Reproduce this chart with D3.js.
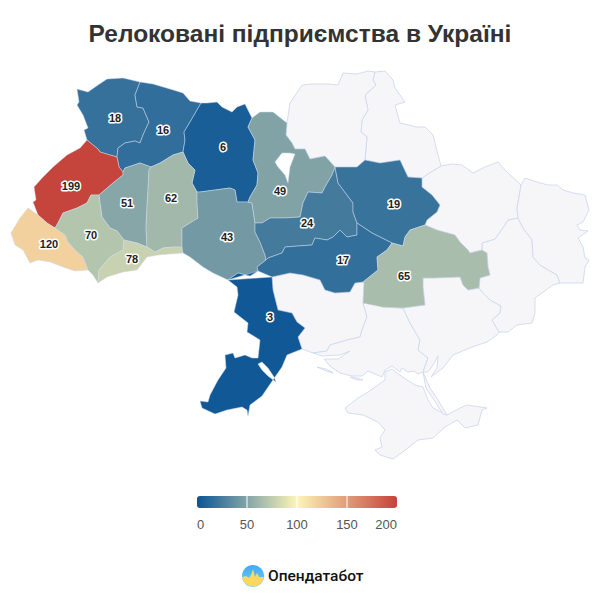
<!DOCTYPE html>
<html lang="uk">
<head>
<meta charset="utf-8">
<title>Релоковані підприємства в Україні</title>
<script src="https://cdn.jsdelivr.net/npm/d3@7"></script>
<style>
  html, body { margin: 0; padding: 0; background: #fff; }
  svg { display: block; font-family: "Liberation Sans", Arial, sans-serif; }
  .region { stroke: #cfd9ee; stroke-width: 0.9; stroke-linejoin: round; fill-rule: evenodd; }
  .region.has-value { stroke-opacity: 0.55; }
  .value { font-size: 11px; font-weight: 700; fill: #222; stroke: #fff; stroke-width: 3px; paint-order: stroke; stroke-linejoin: round; text-anchor: middle; }
  .tick { font-size: 13px; fill: #555; }
</style>
</head>
<body>
<svg id="chart" width="600" height="600"></svg>
<script>
// relocated businesses per oblast
const regionNames = ['Волинська', 'Рівненська', 'Житомирська', 'Львівська', 'Тернопільська', 'Хмельницька', 'Закарпатська', 'Івано-Франківська', 'Чернівецька', 'Вінницька', 'Київська', 'Черкаська', 'Полтавська', 'Кіровоградська', 'Дніпропетровська', 'Одеська'];
const regionValues = [18, 16, 6, 199, 51, 62, 120, 70, 78, 43, 49, 24, 19, 17, 65, 3];
// label anchors, in map units (one unit is one pixel of the traced map)
const labelX = [115, 163, 223, 71, 127, 171, 49, 91, 132, 227, 280, 307, 394, 343, 404, 270];
const labelY = [118, 130, 147, 186, 203, 198, 244, 235, 259, 237, 191, 223, 204, 260, 276, 317];

const legendTicks = [0, 50, 100, 150, 200];
const colorStops = [0, 100, 200];
const colorRange = ['#0a5495', '#fdf5b8', '#c4423a'];

// borders, shared between neighbouring oblasts
const arcs = {
  volynNorth: [[140,82],[123,78],[107,79],[98,85],[88,92],[77,89],[79,102],[77,105],[83,115],[88,128],[84,130],[87,140]],
  volynLviv: [[87,140],[93,145],[98,149],[100,152],[110,155],[117,157]],
  volynRivne: [[140,82],[135,95],[137,107],[143,108],[149,122],[143,135],[140,143],[135,141],[125,143],[118,148],[117,157]],
  rivneNorth: [[140,82],[153,84],[170,89],[183,93],[190,101],[201,103]],
  rivneZhyt: [[201,103],[197,110],[190,122],[184,132],[185,140],[183,152]],
  rivneKhm: [[183,152],[173,155],[160,163],[151,167]],
  rivneTer: [[151,167],[140,163],[125,168],[123,172]],
  rivneLviv: [[117,157],[119,167],[123,172]],
  lvivWest: [[87,140],[80,148],[67,155],[53,167],[43,177],[34,187],[36,200],[33,202],[38,215]],
  lvivZak: [[38,215],[47,223],[55,228]],
  lvivIf: [[55,228],[58,223],[63,213],[77,208],[87,203],[91,195],[99,195]],
  lvivTer: [[99,195],[113,183],[123,175],[123,172]],
  zakOuter: [[38,215],[28,208],[20,218],[11,233],[15,245],[23,250],[30,263],[38,260],[50,262],[63,267],[75,271],[88,270]],
  zakIf: [[88,270],[83,257],[75,250],[68,242],[65,235],[55,228]],
  ifOuter: [[88,270],[93,275],[98,283]],
  ifChern: [[98,283],[99,270],[110,257],[123,250],[124,240]],
  ifTer: [[124,240],[117,231],[110,228],[102,217],[100,203],[99,195]],
  terKhm: [[151,167],[149,170],[148,190],[147,207],[146,227],[147,247]],
  terChern: [[147,247],[137,243],[124,240]],
  chernOuter: [[98,283],[107,277],[123,272],[137,270],[147,257],[158,255],[170,254],[183,253]],
  chernVin: [[183,253],[182,247]],
  chernKhm: [[182,247],[173,247],[163,248],[155,252],[147,247]],
  khmZhyt: [[183,152],[188,163],[195,170],[192,183],[197,192]],
  khmVin: [[197,192],[197,203],[198,218],[190,223],[182,228],[182,247]],
  zhytNorth: [[201,103],[207,103],[217,102],[222,107],[232,112],[237,107],[245,104],[252,118]],
  zhytKyiv: [[252,118],[248,127],[255,140],[253,160],[258,173],[257,185],[250,197],[248,202]],
  zhytVin: [[248,202],[237,202],[235,190],[230,188],[200,192],[197,192]],
  vinKyiv: [[248,202],[252,203],[255,223]],
  vinCherk: [[255,223],[255,232],[260,242],[265,255],[266,260]],
  vinKir: [[266,260],[257,267],[258,271]],
  vinOdesa: [[258,271],[250,276],[238,273],[228,280]],
  vinOuter: [[183,253],[190,257],[203,267],[213,273],[228,280]],
  kyivNorth: [[252,118],[260,112],[273,112],[287,123]],
  kyivChern: [[287,123],[286,135],[292,143],[295,149],[305,149],[310,159],[325,156],[335,167]],
  kyivCherk: [[335,167],[332,175],[325,187],[322,193],[308,192],[303,203],[300,217],[285,218],[270,218],[262,223],[255,223]],
  cherkPol: [[335,167],[338,183],[347,195],[353,203],[353,212],[357,223]],
  cherkKir: [[357,223],[357,235],[347,237],[340,230],[333,237],[327,240],[315,238],[312,245],[285,247],[282,253],[268,258],[266,260]],
  polNorth: [[335,167],[347,167],[357,167],[365,160]],
  polSumy: [[365,160],[380,163],[400,160],[408,177],[422,178]],
  polKhar: [[422,178],[422,187],[432,195],[440,205],[437,212],[427,220],[425,225]],
  polDnipro: [[425,225],[410,230],[405,237],[403,246],[392,243]],
  polKir: [[392,243],[372,233],[357,223]],
  kirDnipro: [[392,243],[387,250],[377,257],[378,270],[363,282]],
  kirMyk: [[363,282],[355,283],[350,292],[335,293],[325,290],[320,280],[303,275],[290,273],[272,277]],
  kirOdesa: [[272,277],[258,271]],
  dniproKhar: [[425,225],[437,230],[455,235],[460,242],[468,250],[470,253],[482,250]],
  dniproDon: [[482,250],[487,253],[488,267],[490,275],[480,278],[479,288]],
  dniproZap: [[479,288],[468,290],[463,285],[460,277],[433,278],[423,278],[423,287],[425,305],[403,308]],
  dniproKherson: [[403,308],[382,307],[363,303]],
  dniproMyk: [[363,303],[364,283],[363,282]],
  odesaMyk: [[272,277],[273,290],[278,310],[292,313],[297,322],[305,328],[298,337],[302,349]],
  odesaOuter: [[228,280],[237,287],[238,295],[234,312],[248,323],[247,332],[260,340],[258,358],[252,358],[245,355],[235,358],[233,353],[225,355],[226,368],[218,380],[210,395],[208,402],[200,401],[202,408],[215,414],[227,410],[242,407],[247,410],[248,416],[250,405],[262,396],[275,377],[282,367],[287,355],[302,349]],
  mykCoast: [[302,349],[313,353]],
  mykKherson: [[363,303],[367,317],[362,330],[360,337],[347,340],[330,345],[327,351],[313,353]],
  khersonCoast: [[313,353],[322,356],[340,355],[350,351],[338,359],[324,359],[330,366],[340,373],[352,376],[362,376],[368,371],[382,377],[385,370],[392,366],[400,372],[402,368],[408,372],[414,371],[418,374],[423,372]],
  khersonZap: [[403,308],[410,323],[420,340],[418,350],[428,358],[423,372]],
  zapCoast: [[423,372],[428,372],[433,365],[438,356],[437,368],[431,377],[443,368],[453,355],[472,347],[487,342],[497,335],[499,332]],
  zapDon: [[479,288],[483,293],[490,300],[501,306],[500,313],[492,320],[499,332]],
  donCoast: [[499,332],[508,332],[517,325],[532,323],[535,313],[535,298],[553,285],[560,283]],
  donLuh: [[560,283],[557,275],[540,265],[533,257],[532,240],[523,228],[518,218]],
  donKhar: [[518,218],[508,220],[500,232],[495,239],[482,243],[482,250]],
  kharLuh: [[521,185],[519,197],[517,208],[518,218]],
  kharNorth: [[441,166],[452,164],[462,165],[473,173],[485,167],[498,162],[507,172],[521,185]],
  kharSumy: [[441,166],[431,172],[422,178]],
  luhOuter: [[521,185],[525,178],[537,182],[548,185],[557,185],[563,190],[573,193],[585,195],[589,210],[583,222],[577,225],[580,230],[588,231],[578,238],[583,247],[585,258],[589,260],[585,267],[583,283],[560,283]],
  sumyChern: [[375,72],[373,80],[376,85],[365,95],[368,110],[362,120],[361,132],[367,137],[365,160]],
  sumyOuter: [[375,72],[385,71],[393,80],[395,88],[405,102],[395,105],[400,123],[417,127],[425,127],[433,135],[438,155],[441,166]],
  chernihivOuter: [[287,123],[290,103],[302,85],[312,84],[328,84],[338,85],[343,73],[357,74],[368,71],[375,72]]
};

// each oblast is a list of arcs; a leading minus walks the arc backwards
const regionRings = {
  'Волинська': [['volynNorth', 'volynLviv', '-volynRivne']],
  'Рівненська': [['rivneNorth', 'rivneZhyt', 'rivneKhm', 'rivneTer', '-rivneLviv', '-volynRivne']],
  'Житомирська': [['zhytNorth', 'zhytKyiv', 'zhytVin', '-khmZhyt', '-rivneZhyt']],
  'Львівська': [['lvivWest', 'lvivZak', 'lvivIf', 'lvivTer', '-rivneLviv', '-volynLviv']],
  'Тернопільська': [['-lvivTer', '-ifTer', '-terChern', '-terKhm', 'rivneTer']],
  'Хмельницька': [['rivneKhm', 'terKhm', '-chernKhm', '-khmVin', '-khmZhyt']],
  'Закарпатська': [['zakOuter', 'zakIf', '-lvivZak']],
  'Івано-Франківська': [['ifOuter', 'ifChern', 'ifTer', '-lvivIf', '-zakIf']],
  'Чернівецька': [['chernOuter', 'chernVin', 'chernKhm', 'terChern', '-ifChern']],
  'Вінницька': [['vinOuter', '-vinOdesa', '-vinKir', '-vinCherk', '-vinKyiv', 'zhytVin', 'khmVin', '-chernVin']],
  'Київська': [['kyivNorth', 'kyivChern', 'kyivCherk', '-vinKyiv', '-zhytKyiv'], [[275,162],[282,153],[290,153],[295,154],[290,167],[288,183],[285,175],[278,167],[275,162]]],
  'Черкаська': [['cherkPol', 'cherkKir', '-vinCherk', '-kyivCherk']],
  'Полтавська': [['polNorth', 'polSumy', 'polKhar', 'polDnipro', 'polKir', '-cherkPol']],
  'Кіровоградська': [['-polKir', 'kirDnipro', 'kirMyk', 'kirOdesa', '-vinKir', '-cherkKir']],
  'Дніпропетровська': [['dniproKhar', 'dniproDon', 'dniproZap', 'dniproKherson', 'dniproMyk', '-kirDnipro', '-polDnipro']],
  'Одеська': [['vinOdesa', '-vinOuter'].slice(0, 1).concat(['-kirOdesa', 'odesaMyk', '-odesaOuter']), [[262,362],[268,368],[274,377],[276,382],[268,376],[262,370],[258,364],[262,362]]],
  'Миколаївська': [['kirMyk', 'odesaMyk', 'mykCoast', '-mykKherson', 'dniproMyk'].map(a => a)],
  'Херсонська': [['dniproKherson', 'mykKherson', 'khersonCoast', '-khersonZap', 'dniproKherson'].slice(1, 4).concat(['-dniproKherson'])],
  'Запорізька': [['dniproZap', 'khersonZap', 'zapCoast', '-zapDon']],
  'Донецька': [['zapDon', 'donCoast', 'donLuh', 'donKhar', 'dniproDon']],
  'Харківська': [['kharNorth', 'kharLuh', 'donKhar', 'dniproKhar'].slice(0, 3).concat(['-dniproKhar', '-polKhar', 'kharSumy'].slice(0, 2)).concat(['-kharSumy'])],
  'Луганська': [['luhOuter', 'donLuh', '-kharLuh']],
  'Сумська': [['sumyOuter', 'kharSumy', '-polSumy', '-sumyChern']],
  'Чернігівська': [['chernihivOuter', 'sumyChern', '-polNorth', '-kyivChern']],
  'Крим': [[[385,372],[392,369],[397,373],[407,380],[415,385],[423,387],[428,400],[433,408],[447,415],[460,408],[467,405],[487,408],[482,410],[478,425],[465,428],[457,420],[445,427],[433,438],[418,440],[408,448],[393,459],[380,455],[375,450],[382,447],[380,438],[385,430],[378,422],[363,415],[348,413],[345,408],[358,398],[368,392],[385,380],[385,372]]],
  'Кінбурн': [[[317,367],[326,369],[333,373],[326,371],[317,367]]],
  'Тендра': [[[350,377],[357,378],[363,380],[357,380],[350,377]]],
  'Арабат': [[[423,372],[430,388],[438,400],[447,415],[443,414],[434,400],[426,388],[423,372]]]
};

const svg = d3.select('#chart');

const color = d3.scaleLinear().domain(colorStops).range(colorRange);

function stitch(ring) {
  const pts = [];
  ring.forEach(part => {
    if (typeof part !== 'string') { pts.push(part); return; }
    const back = part[0] === '-';
    const arc = arcs[back ? part.slice(1) : part];
    const line = back ? arc.slice().reverse() : arc;
    pts.push(...(pts.length ? line.slice(1) : line));
  });
  if (pts[0][0] !== pts[pts.length - 1][0] || pts[0][1] !== pts[pts.length - 1][1]) pts.push(pts[0]);
  return pts;
}

const features = Object.keys(regionRings).map(name => {
  const idx = regionNames.indexOf(name);
  return {
    type: 'Feature',
    properties: { name, value: idx >= 0 ? regionValues[idx] : null },
    geometry: { type: 'Polygon', coordinates: regionRings[name].map(stitch) }
  };
});

const path = d3.geoPath(d3.geoIdentity());

svg.append('text')
  .attr('x', 300).attr('y', 42)
  .attr('text-anchor', 'middle')
  .style('font-size', '24.5px').style('font-weight', 700).style('fill', '#333')
  .text('Релоковані підприємства в Україні');

svg.append('g').selectAll('path')
  .data(features.filter(d => d.properties.value === null))
  .join('path')
  .attr('class', 'region')
  .attr('d', path)
  .attr('fill', '#f6f6f9');

svg.append('g').selectAll('path')
  .data(features.filter(d => d.properties.value !== null))
  .join('path')
  .attr('class', 'region has-value')
  .attr('d', path)
  .attr('fill', d => color(d.properties.value));

svg.append('g').selectAll('text')
  .data(regionValues)
  .join('text')
  .attr('class', 'value')
  .attr('x', (d, i) => labelX[i])
  .attr('y', (d, i) => labelY[i])
  .attr('dy', '0.35em')
  .text(d => d);

// legend
const legendX = d3.scaleLinear().domain([0, 200]).range([197, 397]);
const defs = svg.append('defs');
const grad = defs.append('linearGradient').attr('id', 'legend-grad');
colorStops.forEach(v => {
  grad.append('stop')
    .attr('offset', `${v / 2}%`)
    .attr('stop-color', color(v));
});

const legend = svg.append('g');
legend.append('rect')
  .attr('x', legendX(0)).attr('y', 496)
  .attr('width', legendX(200) - legendX(0)).attr('height', 12)
  .attr('rx', 3)
  .attr('fill', 'url(#legend-grad)');
legend.selectAll('line')
  .data(legendTicks.slice(1, -1))
  .join('line')
  .attr('x1', d => legendX(d)).attr('x2', d => legendX(d))
  .attr('y1', 496).attr('y2', 508)
  .attr('stroke', '#fff');
legend.selectAll('text')
  .data(legendTicks)
  .join('text')
  .attr('class', 'tick')
  .attr('x', (d, i) => i === 0 ? legendX(d) : i === legendTicks.length - 1 ? legendX(d) : legendX(d))
  .attr('y', 529)
  .attr('text-anchor', (d, i) => i === 0 ? 'start' : i === legendTicks.length - 1 ? 'end' : 'middle')
  .text(d => d);

// logo
const logoGrad = defs.append('linearGradient').attr('id', 'logo-sky').attr('x2', 0).attr('y2', 1);
logoGrad.append('stop').attr('offset', '0%').attr('stop-color', '#3fa9f5');
logoGrad.append('stop').attr('offset', '100%').attr('stop-color', '#6fd3f7');
const logo = svg.append('g').attr('transform', 'translate(253,576)');
logo.append('circle').attr('r', 11).attr('fill', 'url(#logo-sky)');
logo.append('path')
  .attr('d', 'M-10.9,1 L-7,0 L-4,2 L-2,-1 L0,-7 L2,1 L4,-3 L6,1 L10.9,1 A11,11 0 0 1 -10.9,1 Z')
  .attr('fill', '#fdd85d');
svg.append('text')
  .attr('x', 268).attr('y', 581)
  .style('font-family', 'Roboto, sans-serif')
  .style('font-size', '15.5px').style('font-weight', 500).style('fill', '#111')
  .text('Опендатабот');
</script>
</body>
</html>
